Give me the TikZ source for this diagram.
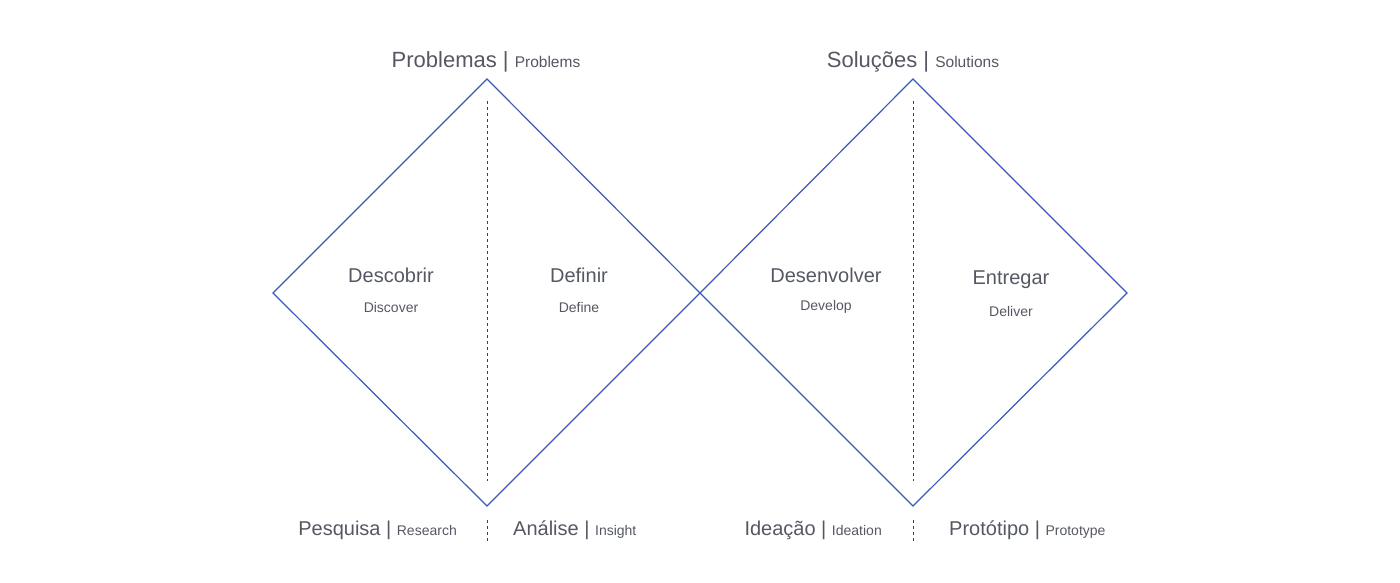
\documentclass[tikz,border=0pt]{standalone}
\usepackage{fontspec}
\setmainfont{Liberation Sans}
\usetikzlibrary{positioning}
\definecolor{diamondblue}{HTML}{3A5BB5}
\definecolor{labelgray}{HTML}{555863}
\definecolor{dashgray}{HTML}{34405E}
\newcommand{\toptxt}{\fontsize{22}{26}\selectfont}
\newcommand{\topsub}{\fontsize{15.5}{18}\selectfont}
\newcommand{\bigtxt}{\fontsize{20}{24}\selectfont}
\newcommand{\smalltxt}{\fontsize{14}{17}\selectfont}
\newcommand{\midtxt}{\fontsize{20}{24}\selectfont}
\newcommand{\subtxt}{\fontsize{14}{17}\selectfont}

\begin{document}
\begin{tikzpicture}[x=1pt,y=-1pt,
		diamond/.style={draw=diamondblue,line width=1.2pt,line join=miter},
		divider/.style={draw=dashgray,line width=0.9pt,dash pattern=on 3pt off 3pt},
		phase/.style={text=labelgray,inner sep=0pt,anchor=center},
		stage/.style={text=labelgray,inner sep=0pt}]
		\useasboundingbox (0,0) rectangle (1400,583);
		
		% vertices of the two diamonds
		\coordinate (l1) at (273,293);
		\coordinate (t1) at (487,79);
		\coordinate (mid) at (700,293);
		\coordinate (b1) at (487,506);
		\coordinate (t2) at (913,79);
		\coordinate (r2) at (1127,293);
		\coordinate (b2) at (913,506);
		
		\draw[diamond] (l1) -- (t1) -- (mid) -- (b1) -- cycle;
		\draw[diamond] (mid) -- (t2) -- (r2) -- (b2) -- cycle;
		
		% dividers
		\coordinate (d1top) at (487,101);
		\coordinate (d1bot) at (487,481);
		\coordinate (d2top) at (913,101);
		\coordinate (d2bot) at (913,481);
		\coordinate (s1top) at (487,520);
		\coordinate (s1bot) at (487,541);
		\coordinate (s2top) at (913,520);
		\coordinate (s2bot) at (913,541);
		\draw[divider] (d1top) -- (d1bot);
		\draw[divider] (d2top) -- (d2bot);
		\draw[divider] (s1top) -- (s1bot);
		\draw[divider] (s2top) -- (s2bot);
		
		% top labels
		\node[stage] (prob) at (486,62) {\toptxt Problemas | {\topsub Problems}};
		\node[stage] (sol)  at (913,62) {\toptxt Soluções | {\topsub Solutions}};
		
		% phases
		\node[phase] (desc)  at (391,275) {\midtxt Descobrir};
		\node[phase] (disc)  at (391,307) {\subtxt Discover};
		\node[phase] (defi)  at (579,275) {\midtxt Definir};
		\node[phase] (defe)  at (579,307) {\subtxt Define};
		\node[phase] (dese)  at (826,275) {\midtxt Desenvolver};
		\node[phase] (deve)  at (826,307) {\subtxt Develop};
		\node[phase] (entr)  at (1011,280) {\midtxt Entregar};
		\node[phase] (deli)  at (1011,311) {\subtxt Deliver};
		
		% bottom labels
		\node[stage,anchor=east] (pesq) at (457,530) {\bigtxt Pesquisa | {\smalltxt Research}};
		\node[stage,anchor=west] (anal) at (513,530) {\bigtxt Análise | {\smalltxt Insight}};
		\node[stage,anchor=east] (idea) at (882,530) {\bigtxt Ideação | {\smalltxt Ideation}};
		\node[stage,anchor=west] (prot) at (949,530) {\bigtxt Protótipo | {\smalltxt Prototype}};
\end{tikzpicture}
\end{document}
